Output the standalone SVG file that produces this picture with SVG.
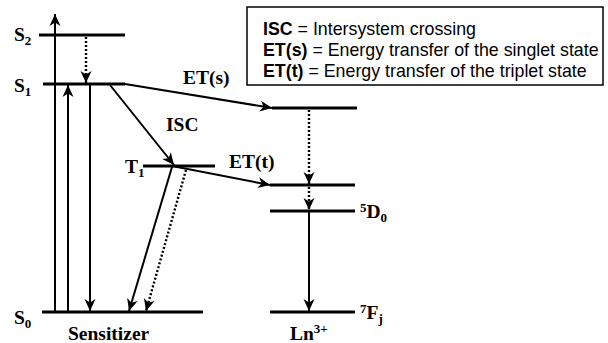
<svg xmlns="http://www.w3.org/2000/svg" width="608" height="343" viewBox="0 0 608 343">
<style>
.lv{stroke:#000;stroke-width:3.2;fill:none}
.ar{stroke:#000;stroke-width:2;fill:none;marker-end:url(#ah)}
.dt{stroke:#000;stroke-width:2.4;fill:none;stroke-dasharray:2 2;marker-end:url(#ah)}
.lb{font-family:"Liberation Serif","Times New Roman",serif;font-weight:bold;font-size:19.5px;fill:#000}
.bx{font-family:"Liberation Sans",Arial,sans-serif;font-size:17.8px;fill:#000}
</style>
<defs>
<marker id="ah" markerUnits="userSpaceOnUse" markerWidth="16" markerHeight="14" viewBox="-14 -7 16 14" refX="0" refY="0" orient="auto">
<path d="M0,0 L-12,-5.5 L-8.5,0 L-12,5.5 Z" fill="#000"/>
</marker>
</defs>
<g id="levels">
<g id="S2"><line class="lv" x1="39" y1="35" x2="125" y2="35"/><text class="lb" x="14" y="41">S<tspan font-size="13" dy="4">2</tspan></text></g>
<g id="S1"><line class="lv" x1="43" y1="84" x2="125" y2="84"/><text class="lb" x="14" y="92">S<tspan font-size="13" dy="4">1</tspan></text></g>
<g id="T1"><line class="lv" x1="143" y1="166" x2="215" y2="166"/><text class="lb" x="125" y="173">T<tspan font-size="13" dy="4">1</tspan></text></g>
<g id="S0"><line class="lv" x1="42" y1="312" x2="203" y2="312"/><text class="lb" x="14" y="324">S<tspan font-size="13" dy="4">0</tspan></text></g>
<g id="Ln_top"><line class="lv" x1="272" y1="108" x2="357" y2="108"/></g>
<g id="Ln_mid"><line class="lv" x1="270" y1="185" x2="355" y2="185"/></g>
<g id="D0"><line class="lv" x1="270" y1="211" x2="355" y2="211"/><text class="lb" x="360" y="218"><tspan font-size="13" dy="-6">5</tspan><tspan dy="6">D</tspan><tspan font-size="13" dy="4">0</tspan></text></g>
<g id="F7"><line class="lv" x1="270" y1="312" x2="355" y2="312"/><text class="lb" x="360" y="319"><tspan font-size="13" dy="-6">7</tspan><tspan dy="6">F</tspan><tspan font-size="13" dy="4">j</tspan></text></g>
<g id="Sensitizer"><text class="lb" x="68" y="340">Sensitizer</text></g>
<g id="Ln"><text class="lb" x="290" y="340">Ln<tspan font-size="13" dy="-7">3+</tspan></text></g>
</g>
<g id="legend">
<rect x="247" y="7" width="356" height="78" fill="#fff" stroke="#000" stroke-width="1.5"/>
<text class="bx" x="263" y="35"><tspan font-weight="bold">ISC</tspan> = Intersystem crossing</text>
<text class="bx" x="263" y="56"><tspan font-weight="bold">ET(s)</tspan> = Energy transfer of the singlet state</text>
<text class="bx" x="263" y="77"><tspan font-weight="bold">ET(t)</tspan> = Energy transfer of the triplet state</text>
</g>
<g id="connectors">
<line class="ar" x1="55" y1="312" x2="55" y2="14"/>
<line class="ar" x1="68" y1="312" x2="68" y2="85"/>
<line class="ar" x1="90" y1="84" x2="90" y2="311"/>
<line class="dt" x1="86" y1="37" x2="86" y2="83"/>
<line class="ar" x1="110" y1="85" x2="174" y2="165"/>
<line class="ar" x1="125" y1="84" x2="272" y2="108"/>
<line class="ar" x1="172" y1="166" x2="270" y2="185"/>
<line class="ar" x1="172" y1="167" x2="129" y2="311"/>
<line class="dt" x1="186" y1="170" x2="146" y2="311"/>
<line class="dt" x1="309" y1="110" x2="309" y2="184"/>
<line class="dt" x1="309" y1="187" x2="309" y2="210"/>
<line class="ar" x1="309" y1="212" x2="309" y2="311"/>
<text class="lb" x="183" y="84">ET(s)</text>
<text class="lb" x="166" y="131" font-size="13">ISC</text>
<text class="lb" x="229" y="168">ET(t)</text>
</g>
</svg>
